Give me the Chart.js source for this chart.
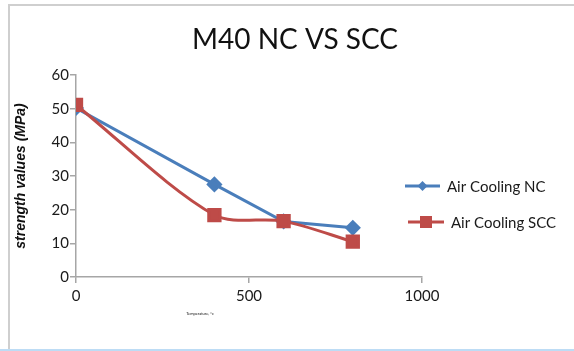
<!DOCTYPE html>
<html>
<head>
<meta charset="utf-8">
<script src="https://cdn.jsdelivr.net/npm/chart.js@4/dist/chart.umd.min.js"></script>
<style>
  html, body { margin: 0; padding: 0; background: #ffffff; }
  #wrap { width: 574px; height: 351px; position: relative; }
</style>
</head>
<body>
<div id="wrap"><canvas id="chart" width="574" height="351"></canvas></div>
<script>
// Temperature (°C) and residual strength (MPa) after air cooling
const temperatures = [0, 400, 600, 800];
const ncStrength   = [50.2, 27.5, 16.5, 14.6];
const sccStrength  = [51.1, 18.4, 16.6, 10.5];
const seriesNames  = ['Air Cooling NC', 'Air Cooling SCC'];
const xTicks = [0, 500, 1000];
const yTicks = [0, 10, 20, 30, 40, 50, 60];

const FONT = 'Lato, "Open Sans", "Liberation Sans", sans-serif';
const BLUE = '#4a7ebb';
const RED = '#be4b48';

const toPoints = (ys) => temperatures.map((t, i) => ({ x: t, y: ys[i] }));

// Frame, title, axis note and line-with-marker legend
const decor = {
  id: 'decor',
  beforeDraw(chart) {
    const c = chart.ctx;
    c.save();
    c.fillStyle = '#ffffff';
    c.fillRect(0, 0, chart.width, chart.height);
    c.strokeStyle = '#cfcfcf';
    c.lineWidth = 2;
    c.beginPath();
    c.moveTo(9, 351);
    c.lineTo(9, 5);
    c.lineTo(574, 5);
    c.stroke();
    c.strokeStyle = '#bddcf5';
    c.lineWidth = 2;
    c.beginPath();
    c.moveTo(0, 350);
    c.lineTo(574, 350);
    c.stroke();
    c.restore();
  },
  afterDraw(chart) {
    const c = chart.ctx;
    c.save();
    c.fillStyle = '#111';
    c.font = '28px ' + FONT;
    c.textAlign = 'center';
    c.textBaseline = 'middle';
    c.fillText('M40 NC VS SCC', 295, 40);

    c.font = '4px ' + FONT;
    c.fillText('Temperature, °c', 200, 314);

    const items = [
      { label: seriesNames[0], color: BLUE, y: 186, x0: 405, x1: 440, tx: 447, style: 'diamond' },
      { label: seriesNames[1], color: RED, y: 222, x0: 408, x1: 444, tx: 451, style: 'square' }
    ];
    items.forEach(it => {
      c.strokeStyle = it.color;
      c.lineWidth = 3;
      c.beginPath();
      c.moveTo(it.x0, it.y);
      c.lineTo(it.x1, it.y);
      c.stroke();
      const cx = (it.x0 + it.x1) / 2;
      c.fillStyle = it.color;
      c.beginPath();
      if (it.style === 'diamond') {
        c.moveTo(cx, it.y - 5); c.lineTo(cx + 5, it.y); c.lineTo(cx, it.y + 5); c.lineTo(cx - 5, it.y);
        c.closePath();
      } else {
        c.rect(cx - 6, it.y - 6, 12, 12);
      }
      c.fill();
      c.fillStyle = '#1a1a1a';
      c.font = '15px ' + FONT;
      c.textAlign = 'left';
      c.textBaseline = 'middle';
      c.fillText(it.label, it.tx, it.y + 1);
    });
    c.restore();
  }
};

new Chart(document.getElementById('chart'), {
  type: 'line',
  data: {
    datasets: [
      {
        label: seriesNames[0],
        data: toPoints(ncStrength),
        borderColor: BLUE,
        backgroundColor: BLUE,
        borderWidth: 3,
        pointStyle: 'rectRot',
        pointRadius: 6,
        tension: 0,
        order: 1
      },
      {
        label: seriesNames[1],
        data: toPoints(sccStrength),
        borderColor: RED,
        backgroundColor: RED,
        borderWidth: 3,
        pointStyle: 'rect',
        pointRadius: 8,
        tension: 0.3,
        order: 0
      }
    ]
  },
  options: {
    responsive: false,
    animation: false,
    layout: { padding: { left: 10, right: 152, top: 75, bottom: 0 } },
    plugins: {
      legend: { display: false },
      title: { display: false },
      tooltip: { enabled: false }
    },
    scales: {
      x: {
        type: 'linear',
        min: 0,
        max: 1000,
        afterBuildTicks(scale) { scale.ticks = xTicks.map(v => ({ value: v })); },
        afterFit(scale) { scale.height = 351 - 277; },
        ticks: {
          color: '#1a1a1a', font: { family: FONT, size: 15 }, padding: 4, maxRotation: 0,
          callback: (v) => String(v)
        },
        grid: { drawOnChartArea: false, tickLength: 6, color: '#a6a6a6', lineWidth: 1.5 },
        border: { color: '#a6a6a6', width: 1.5 }
      },
      y: {
        min: 0,
        max: 60,
        afterBuildTicks(scale) { scale.ticks = yTicks.map(v => ({ value: v })); },
        afterFit(scale) { scale.width = 66; },
        ticks: { color: '#1a1a1a', font: { family: FONT, size: 15 }, padding: 1, callback: (v) => String(v) },
        grid: { drawOnChartArea: false, tickLength: 6, color: '#a6a6a6', lineWidth: 1.5 },
        border: { color: '#a6a6a6', width: 1.5 },
        title: {
          display: true,
          text: 'strength values (MPa)',
          color: '#111',
          font: { family: '"Liberation Sans", Arial, sans-serif', size: 14, style: 'italic', weight: 'bold' },
          padding: { top: 3, bottom: 0 }
        }
      }
    }
  },
  plugins: [decor]
});
</script>
</body>
</html>
